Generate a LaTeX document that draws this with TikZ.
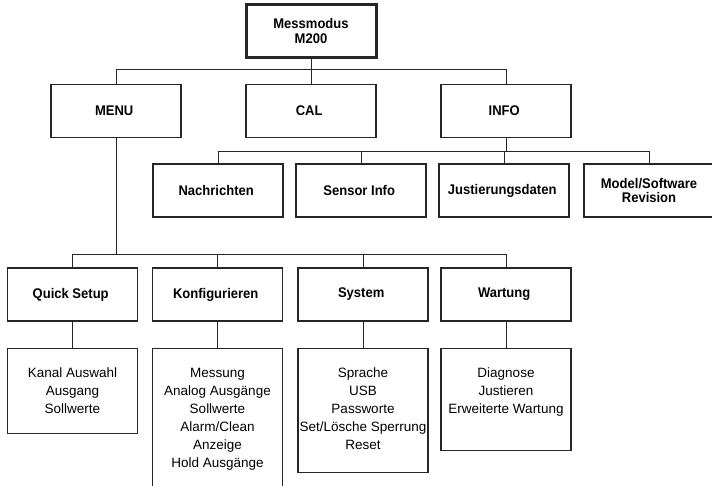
\documentclass[tikz,border=0pt]{standalone}
\usepackage{fontspec}
\setmainfont{Liberation Sans}[BoldFeatures={FakeStretch=0.93}]
% text of a detail box: height, lines
\newcommand{\dtext}[2]{\parbox[c][#1][t]{130pt}{\centering\rule{0pt}{29pt}#2}}
\begin{document}
\begin{tikzpicture}[x=1pt,y=1pt]
% size of each box
\def\bw{130pt}
\def\bh{53pt}
% node style definition
\tikzstyle{block} = [
	draw=black!85, rectangle, line width=1.1pt,
	minimum width=\bw, minimum height=\bh, inner sep=2pt,
	align=center, font=\fontsize{14}{14.5}\selectfont\bfseries ];
\tikzstyle{mode} = [block, line width=3pt];
\tikzstyle{detail} = [
	draw=black!85, rectangle, line width=1.1pt, anchor=north,
	minimum width=\bw, inner sep=0pt,
	font=\fontsize{13.5}{18}\selectfont ];
\tikzstyle{link} = [draw=black!85, line width=1pt];
\useasboundingbox (0,0) rectangle (712,-486);

\node[mode] (mess) at (311,-31) { Messmodus\\M200 };

\node[block] (menu) at (116,-111) { MENU };
\node[block] (cal) at (311,-111) { CAL };
\node[block] (info) at (506,-111) { INFO };

\node[block] (nach) at (218,-190.5) { Nachrichten };
\node[block] (sens) at (361,-190.5) { Sensor Info };
\node[block] (just) at (504,-190.5) { Justierungsdaten };
\node[block] (model) at (649,-190.5) { Model/Software\\Revision };

\node[block] (quick) at (72.5,-294.5) { Quick Setup };
\node[block] (konf) at (217.5,-294.5) { Konfigurieren };
\node[block] (sys) at (363,-294.5) { System };
\node[block] (wart) at (506,-294.5) { Wartung };

\node[detail] (dquick) at (72.5,-348)
	{\dtext{85pt}{Kanal Auswahl\\Ausgang\\Sollwerte}};
\node[detail] (dkonf) at (217.5,-348)
	{\dtext{160pt}{Messung\\Analog Ausgänge\\Sollwerte\\Alarm/Clean\\Anzeige\\Hold Ausgänge}};
\node[detail] (dsys) at (363,-348)
	{\dtext{124pt}{Sprache\\USB\\Passworte\\Set/Lösche Sperrung\\Reset}};
\node[detail] (dwart) at (506,-348)
	{\dtext{102pt}{Diagnose\\Justieren\\Erweiterte Wartung}};

% connectors
\draw[link] (mess.south) -- ++(0,-11) coordinate (bus0);
\foreach \n in {menu,cal,info}
	\draw[link] (\n.north) |- (bus0);
\draw[link] (info.south) -- ++(0,-13) coordinate (bus1);
\foreach \n in {nach,sens,just,model}
	\draw[link] (\n.north) |- (bus1);
\draw[link] (menu.south) -- ++(0,-116) coordinate (bus2);
\foreach \n in {quick,konf,sys,wart}
{
	\draw[link] (\n.north) |- (bus2);
	\draw[link] (\n.south) -- (d\n.north);
}
\end{tikzpicture}
\end{document}
